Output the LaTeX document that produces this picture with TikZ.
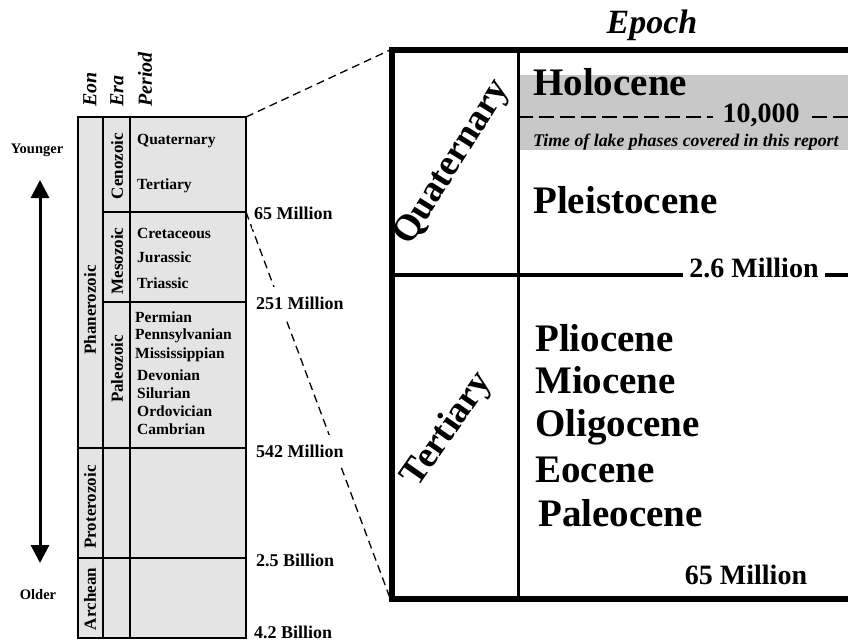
\documentclass[tikz,border=0pt]{standalone}
\usepackage{fontspec}
\setmainfont{Liberation Serif}
\usepackage{xcolor}
\usepackage{tikz}
\usetikzlibrary{arrows.meta}
\definecolor{colgray}{HTML}{E4E4E4}
\definecolor{bandgray}{HTML}{C8C8C8}

\begin{document}
\begin{tikzpicture}[x=1pt,y=-1pt,
        period/.style={font=\fontsize{15.5}{17}\selectfont\bfseries,anchor=west,inner sep=0pt},
        age/.style={font=\fontsize{18}{20}\selectfont\bfseries,anchor=west,fill=white,inner xsep=2pt,inner ysep=10pt},
        unit/.style={font=\fontsize{17}{19}\selectfont\bfseries,rotate=90,inner sep=0pt},
        colhead/.style={font=\fontsize{20}{22}\selectfont\bfseries\itshape,rotate=90,anchor=west,inner sep=0pt},
        epoch/.style={font=\fontsize{39}{42}\selectfont\bfseries,anchor=west,inner sep=0pt},
        bigage/.style={font=\fontsize{28}{30}\selectfont\bfseries},
        zoomline/.style={line width=1.3pt,dash pattern=on 8pt off 5pt}]
        \useasboundingbox (0,0) rectangle (848,641);
        \clip (0,0) rectangle (848,641);

        % left column
        \draw[line width=2.5pt,fill=colgray] (78,117) rectangle (246,638);
        \draw[line width=2.5pt] (103,117) -- (103,638);
        \draw[line width=2.5pt] (130,117) -- (130,638);
        \draw[line width=2.5pt] (103,212) -- (246,212);
        \draw[line width=2.5pt] (103,302) -- (246,302);
        \draw[line width=2.5pt] (78,448) -- (246,448);
        \draw[line width=2.5pt] (78,558) -- (246,558);

        \coordinate (coltop) at (246,117);
        \coordinate (colmid) at (246,212);
        \coordinate (young) at (40,180);
        \coordinate (old) at (40,563);

        \node[colhead] (eon) at (90,107) {Eon};
        \node[colhead] (era) at (117,107) {Era};
        \node[colhead] (per) at (145,107) {Period};

        \node[font=\fontsize{14.5}{16}\selectfont\bfseries] (younger) at (37,150) {Younger};
        \node[font=\fontsize{14.5}{16}\selectfont\bfseries] (older) at (38,595) {Older};
        \draw[line width=3pt,{Triangle[width=18pt,length=18pt]}-{Triangle[width=18pt,length=18pt]}] (old) -- (young);

        \node[unit] (phan) at (90,310) {Phanerozoic};
        \node[unit] (prot) at (90,507) {Proterozoic};
        \node[unit] (arch) at (90,599) {Archean};
        \node[unit] (ceno) at (117,166) {Cenozoic};
        \node[unit] (meso) at (117,261) {Mesozoic};
        \node[unit] (paleo) at (117,369) {Paleozoic};

        \node[period] (quat) at (137,141) {Quaternary};
        \node[period] (tert) at (137,186) {Tertiary};
        \node[period] (cret) at (137,233) {Cretaceous};
        \node[period] (jura) at (137,257) {Jurassic};
        \node[period] (tria) at (137,283) {Triassic};
        \node[period] (perm) at (135,317) {Permian};
        \node[period] (penn) at (135,336) {Pennsylvanian};
        \node[period] (miss) at (135,355) {Mississippian};
        \node[period] (devo) at (137,375) {Devonian};
        \node[period] (silu) at (137,393) {Silurian};
        \node[period] (ordo) at (137,411) {Ordovician};
        \node[period] (camb) at (137,429) {Cambrian};

        % right box
        \fill[bandgray] (518,75) rectangle (848,150);
        \draw[line width=6pt] (392,50) rectangle (870,599);
        \draw[line width=3pt] (518,50) -- (518,599);
        \coordinate (boxtop) at (390,50);
        \coordinate (boxbot) at (390,598);
        \coordinate (qtleft) at (392,275);
        \coordinate (qtright) at (848,275);
        \coordinate (holleft) at (518,117);
        \coordinate (holright) at (848,117);

        \draw[zoomline] (coltop) -- (boxtop);
        \draw[zoomline] (colmid) -- (boxbot);
        \node[age] (m65) at (252,213) {65 Million};
        \node[age] (m251) at (254,303) {251 Million};
        \node[age] (m542) at (254,451) {542 Million};
        \node[age] (b25) at (254,560) {2.5 Billion};
        \node[age] (b42) at (252,632) {4.2 Billion};

        \node[font=\fontsize{34}{38}\selectfont\bfseries\itshape] (title) at (652,25) {Epoch};

        \draw[line width=3.5pt] (qtleft) -- (qtright);
        \node[bigage,fill=white,inner xsep=6pt] (m26) at (754,268) {2.6 Million};
        \draw[line width=2.5pt,dash pattern=on 15pt off 6pt] (holleft) -- (holright);
        \node[bigage,fill=bandgray,inner xsep=10pt,inner ysep=0pt] (k10) at (761,115) {10,000};

        \node[epoch] (holo) at (533,82) {Holocene};
        \node[font=\fontsize{17.8}{19}\selectfont\bfseries\itshape,anchor=west,inner sep=0pt] (lake) at (533,142) {Time of lake phases covered in this report};
        \node[epoch] (plei) at (533,200) {Pleistocene};
        \node[font=\fontsize{37}{40}\selectfont\bfseries,rotate=58] (quatbig) at (453,163) {Quaternary};

        \node[epoch] (plio) at (535,338) {Pliocene};
        \node[epoch] (mio) at (535,380) {Miocene};
        \node[epoch] (oli) at (535,427) {Oligocene};
        \node[epoch] (eo) at (535,470) {Eocene};
        \node[epoch] (pal) at (538,513) {Paleocene};
        \node[font=\fontsize{37}{40}\selectfont\bfseries,rotate=55] (tertbig) at (448,430) {Tertiary};
        \node[bigage] (m65b) at (746,575) {65 Million};
    \end{tikzpicture}
\end{document}
